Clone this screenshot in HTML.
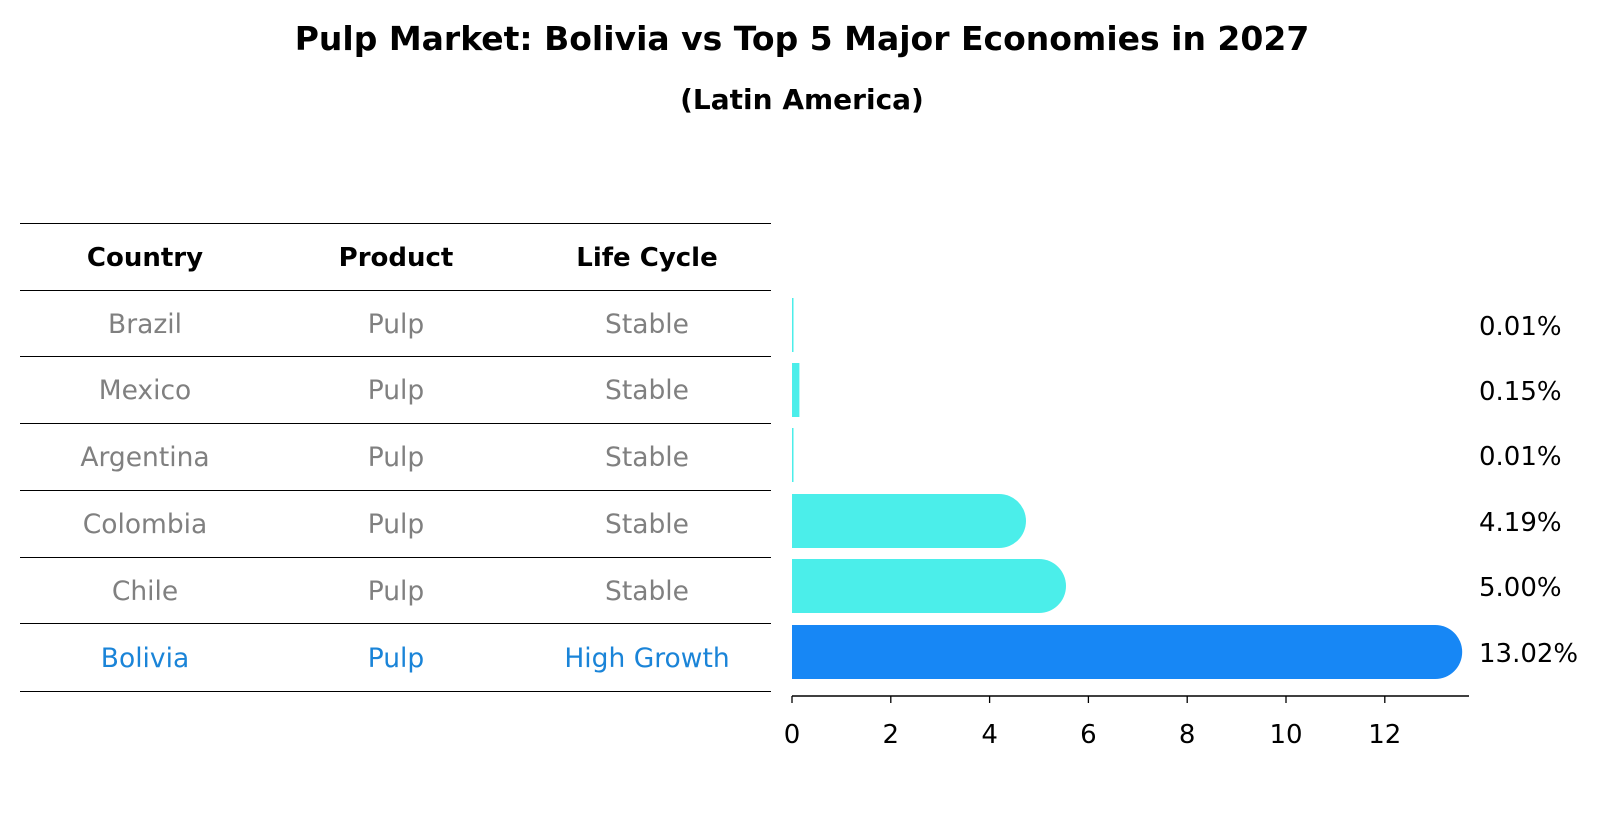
<!DOCTYPE html>
<html><head><meta charset="utf-8"><style>
body{margin:0;background:#fff;}
svg{display:block;font-family:"DejaVu Sans","Liberation Sans",sans-serif;}
</style></head><body>
<svg width="1604" height="823" viewBox="0 0 1604 823">
<text x="802" y="50" text-anchor="middle" font-size="33" font-weight="bold">Pulp Market: Bolivia vs Top 5 Major Economies in 2027</text>
<text x="802" y="109" text-anchor="middle" font-size="28" font-weight="bold">(Latin America)</text>
<g id="table"></g>
<g id="bars"></g>
</svg>
<script>
const countries=["Brazil","Mexico","Argentina","Colombia","Chile","Bolivia"];
const products=["Pulp","Pulp","Pulp","Pulp","Pulp","Pulp"];
const lifecycles=["Stable","Stable","Stable","Stable","Stable","High Growth"];
const values=[0.01,0.15,0.01,4.19,5.00,13.02];
const ticks=[0,2,4,6,8,10,12];
const NS="http://www.w3.org/2000/svg";
function mk(tag,attrs,parent,txt){const e=document.createElementNS(NS,tag);for(const k in attrs)e.setAttribute(k,attrs[k]);if(txt!==undefined)e.textContent=txt;parent.appendChild(e);return e;}
const tbl=document.getElementById('table');
const lineYs=[223,290,356,423,490,557,623,691];
lineYs.forEach((y,i)=>{const l=mk('line',{x1:20,x2:771,y1:y+0.5,y2:y+0.5,stroke:'#000','stroke-width':1},tbl);

});
const colX=[145,396,647];
["Country","Product","Life Cycle"].forEach((h,i)=>{const t=mk('text',{x:colX[i],y:266,'text-anchor':'middle','font-size':'26','font-weight':'bold'},tbl,h);

});
const rowY=[333,399,466,533,600,667];
countries.forEach((c,i)=>{const col=c==="Bolivia"?"#1a84d8":"#808080";
[c,products[i],lifecycles[i]].forEach((v,j)=>{const t=mk('text',{x:colX[j],y:rowY[i],'text-anchor':'middle','font-size':'26.5',fill:col},tbl,v);

});});
const g=document.getElementById('bars');
const x0=792,ppu=49.4;
const xs=v=>x0+v*ppu;
const barCY=[325,390,455,521,586,652];
const bh=54;
values.forEach((v,i)=>{const col=countries[i]==="Bolivia"?"#1787f5":"#4beeea";
const w=xs(v)-x0;
if(v>=1){const r=bh/2;
const p=mk('path',{d:`M${x0},${barCY[i]-r} H${xs(v)} A${r},${r} 0 0 1 ${xs(v)},${barCY[i]+r} H${x0} Z`,fill:col},g);

}
else{const p=mk('rect',{x:x0,y:barCY[i]-bh/2,width:Math.max(w,1.5),height:bh,fill:col},g);

}
const t=mk('text',{x:1479,y:barCY[i]+10,'font-size':'26'},g,v.toFixed(2)+'%');

});
const ax=mk('line',{x1:x0,x2:1469,y1:696,y2:696,stroke:'#000','stroke-width':1.5},g);


ticks.forEach(t=>{const l=mk('line',{x1:xs(t),x2:xs(t),y1:696,y2:703,stroke:'#000','stroke-width':1.3},g);


const tx=mk('text',{x:xs(t),y:743,'text-anchor':'middle','font-size':'26'},g,String(t));

});
</script>
</body></html>
